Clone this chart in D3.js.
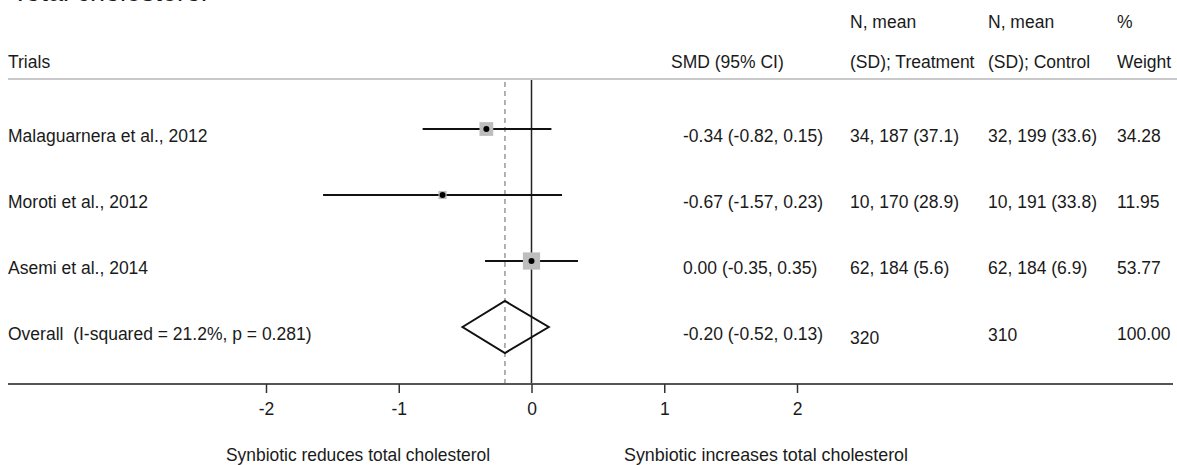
<!DOCTYPE html>
<html>
<head>
<meta charset="utf-8">
<script src="https://cdn.jsdelivr.net/npm/d3@7"></script>
<style>
  body { margin: 0; background: #fff; }
  svg text { font-family: "Liberation Sans", Arial, sans-serif; font-size: 17.5px; fill: #1a1a1a; white-space: pre; }
</style>
</head>
<body>
<svg id="chart" width="1177" height="465"></svg>
<script>
// Study rows
const studies = ["Malaguarnera et al., 2012", "Moroti et al., 2012", "Asemi et al., 2014"];
const smd = [-0.34, -0.67, 0.00];
const ciLow = [-0.82, -1.57, -0.35];
const ciHigh = [0.15, 0.23, 0.35];
const treatment = ["34, 187 (37.1)", "10, 170 (28.9)", "62, 184 (5.6)"];
const control = ["32, 199 (33.6)", "10, 191 (33.8)", "62, 184 (6.9)"];
const weights = [34.28, 11.95, 53.77];

// Pooled estimate
const overallLabel = "Overall  (I-squared = 21.2%, p = 0.281)";
const overall = [-0.20, -0.52, 0.13];
const overallN = ["320", "310"];
const overallWeight = 100.00;

const xTicks = [-2, -1, 0, 1, 2];
const footLabels = ["Synbiotic reduces total cholesterol", "Synbiotic increases total cholesterol"];

(function() {
  const svg = d3.select('#chart');
  // plain hyphen for negatives, like the original
  const locale = d3.formatLocale({ decimal: '.', thousands: ',', grouping: [3], currency: ['', ''], minus: '-' });
  const fmt = locale.format('.2f');

  const x = d3.scaleLinear().domain([-2, 2]).range([266, 797]);
  const y = d3.scalePoint().domain(d3.range(studies.length + 1)).range([129, 327]);
  const textDy = 13;

  // columns
  const colSmd = 683, colT = 850, colC = 988, colW = 1117;

  // title, cut off at the very top in the original
  svg.append('text').attr('x', 12).attr('y', 0.5).style('font-size', '27px').attr('fill', '#444').text('Total cholesterol');

  // header
  svg.append('text').attr('x', colT).attr('y', 28).text('N, mean');
  svg.append('text').attr('x', colC).attr('y', 28).text('N, mean');
  svg.append('text').attr('x', colW).attr('y', 28).text('%');
  svg.append('text').attr('x', 8).attr('y', 68).text('Trials');
  svg.append('text').attr('x', 671).attr('y', 68).text('SMD (95% CI)');
  svg.append('text').attr('x', colT).attr('y', 68).text('(SD); Treatment');
  svg.append('text').attr('x', colC).attr('y', 68).text('(SD); Control');
  svg.append('text').attr('x', colW).attr('y', 68).text('Weight');

  svg.append('line').attr('x1', 8).attr('x2', 1177).attr('y1', 79).attr('y2', 79)
    .attr('stroke', '#c8c8c8').attr('stroke-width', 2);

  // reference lines
  svg.append('line').attr('x1', x(0)).attr('x2', x(0)).attr('y1', 80).attr('y2', 384)
    .attr('stroke', '#222').attr('stroke-width', 1.5);
  svg.append('line').attr('x1', x(overall[0])).attr('x2', x(overall[0])).attr('y1', 82).attr('y2', 384)
    .attr('stroke', '#999').attr('stroke-width', 1.5).attr('stroke-dasharray', '5,4');

  // study rows
  const rows = svg.append('g').selectAll('g').data(studies).enter().append('g');
  rows.append('line')
    .attr('x1', (d, i) => x(ciLow[i])).attr('x2', (d, i) => x(ciHigh[i]))
    .attr('y1', (d, i) => y(i)).attr('y2', (d, i) => y(i))
    .attr('stroke', '#111').attr('stroke-width', 2);
  rows.append('rect')
    .attr('x', (d, i) => x(smd[i]) - 1.175 * Math.sqrt(weights[i]))
    .attr('y', (d, i) => y(i) - 1.175 * Math.sqrt(weights[i]))
    .attr('width', (d, i) => 2.35 * Math.sqrt(weights[i]))
    .attr('height', (d, i) => 2.35 * Math.sqrt(weights[i]))
    .attr('fill', '#bdbdbd');
  rows.append('circle')
    .attr('cx', (d, i) => x(smd[i])).attr('cy', (d, i) => y(i)).attr('r', 3)
    .attr('fill', '#000');
  rows.append('text').attr('x', 8).attr('y', (d, i) => y(i) + textDy).text(d => d);
  rows.append('text').attr('x', colSmd).attr('y', (d, i) => y(i) + textDy)
    .text((d, i) => `${fmt(smd[i])} (${fmt(ciLow[i])}, ${fmt(ciHigh[i])})`);
  rows.append('text').attr('x', colT).attr('y', (d, i) => y(i) + textDy).text((d, i) => treatment[i]);
  rows.append('text').attr('x', colC).attr('y', (d, i) => y(i) + textDy).text((d, i) => control[i]);
  rows.append('text').attr('x', colW).attr('y', (d, i) => y(i) + textDy).text((d, i) => fmt(weights[i]));

  // overall diamond
  const yo = y(studies.length);
  const h = 26;
  svg.append('path')
    .attr('d', d3.line()([[x(overall[1]), yo], [x(overall[0]), yo - h], [x(overall[2]), yo], [x(overall[0]), yo + h]]) + 'Z')
    .attr('fill', 'none').attr('stroke', '#111').attr('stroke-width', 2);
  svg.append('text').attr('x', 8).attr('y', yo + textDy).text(overallLabel);
  svg.append('text').attr('x', colSmd).attr('y', yo + textDy)
    .text(`${fmt(overall[0])} (${fmt(overall[1])}, ${fmt(overall[2])})`);
  svg.append('text').attr('x', colT).attr('y', yo + textDy + 4).text(overallN[0]);
  svg.append('text').attr('x', colC).attr('y', yo + textDy + 1).text(overallN[1]);
  svg.append('text').attr('x', colW).attr('y', yo + textDy).text(fmt(overallWeight));

  // axis
  svg.append('line').attr('x1', 8).attr('x2', 1173).attr('y1', 384).attr('y2', 384)
    .attr('stroke', '#555').attr('stroke-width', 2);
  const axis = svg.append('g').attr('transform', 'translate(0,384)')
    .call(d3.axisBottom(x).tickValues(xTicks).tickSize(9).tickPadding(10).tickFormat(locale.format('d')));
  axis.select('.domain').remove();
  axis.selectAll('.tick line').attr('stroke', '#333').attr('stroke-width', 1.5);
  axis.selectAll('.tick text').style('font-size', '17.5px').attr('fill', '#1a1a1a');

  // direction labels
  svg.append('text').attr('x', 226).attr('y', 461).attr('textLength', 264)
    .attr('lengthAdjust', 'spacingAndGlyphs').style('font-size', '18.5px').text(footLabels[0]);
  svg.append('text').attr('x', 624).attr('y', 461).attr('textLength', 284)
    .attr('lengthAdjust', 'spacingAndGlyphs').style('font-size', '18.5px').text(footLabels[1]);
})();
</script>
</body>
</html>
